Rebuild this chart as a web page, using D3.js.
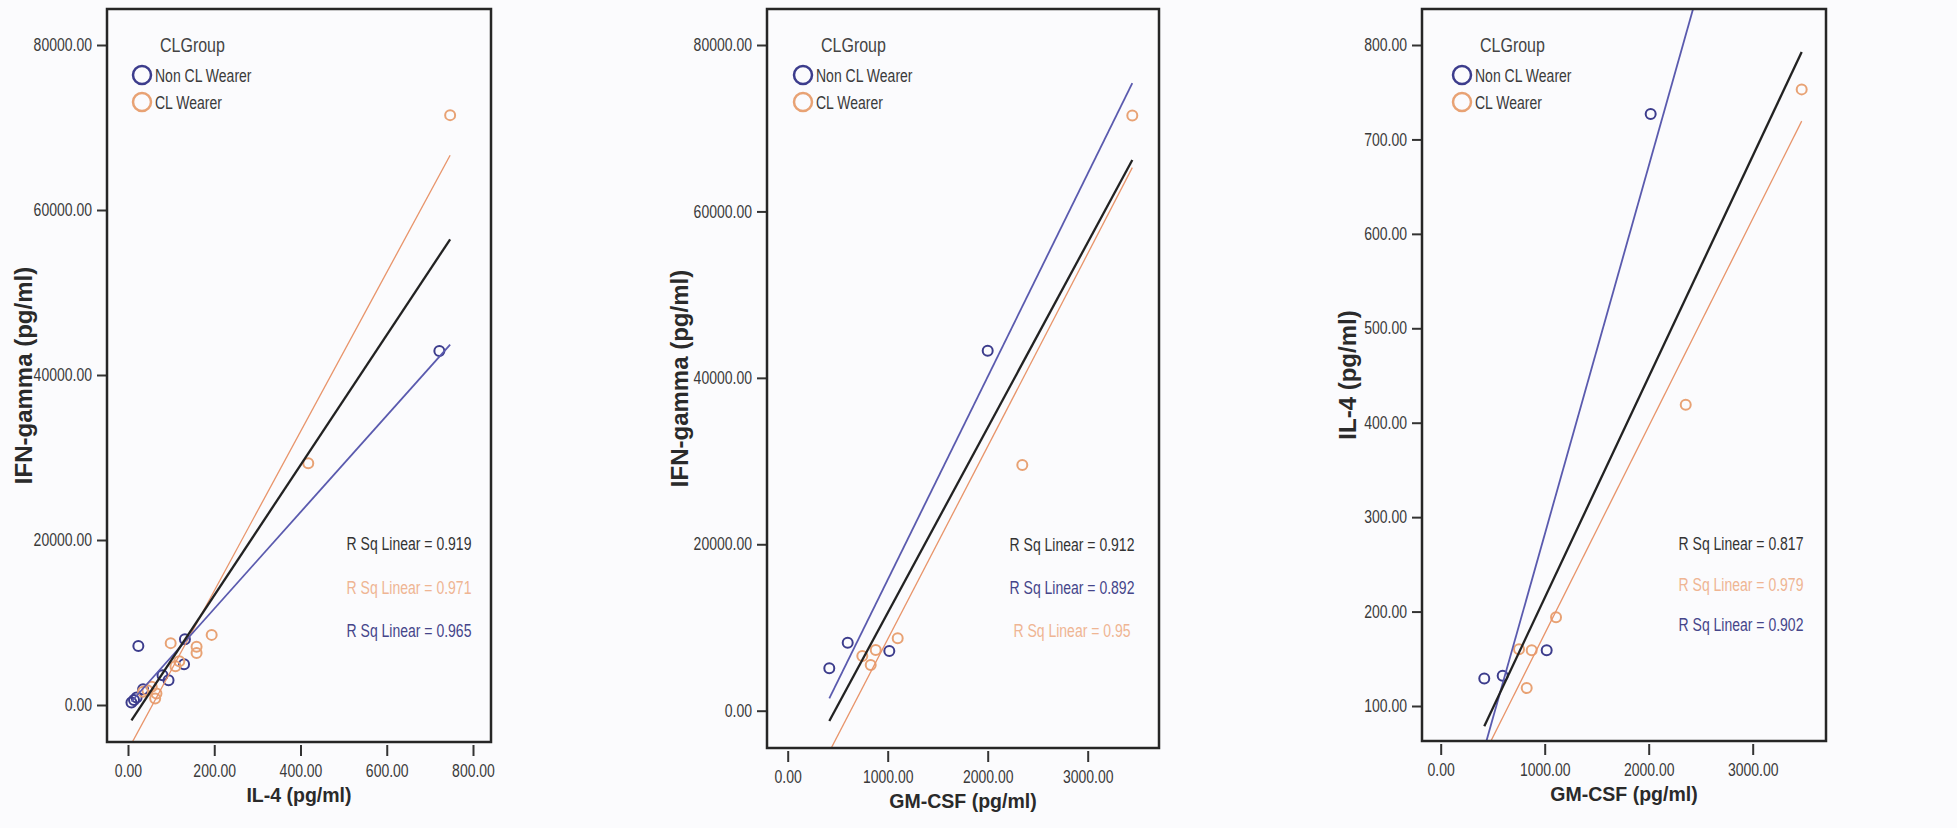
<!DOCTYPE html>
<html><head><meta charset="utf-8">
<script src="https://cdnjs.cloudflare.com/ajax/libs/d3/7.8.5/d3.min.js"></script>
<style>html,body{margin:0;padding:0;background:#fbfbfd;} svg{display:block;}</style>
</head><body><svg id="c" width="1957" height="828"></svg>
<script>
// ---------- data ----------
const groups = ["Non CL Wearer", "CL Wearer"];
const legendTitle = "CLGroup";

// Panel 1: IL-4 (x) vs IFN-gamma (y)
const p1NonCL = [[8,300],[14,600],[20,900],[24,7150],[35,1900],[80,3600],[94,3000],[130,4950],[132,7960],[722,42900]];
const p1CL = [[35,1600],[45,1800],[55,2200],[63,800],[66,1400],[99,7500],[110,4700],[119,5300],[159,6300],[159,7050],[194,8500],[418,29300],[747,71500]];
// Panel 2: GM-CSF (x) vs IFN-gamma (y)
const p2NonCL = [[416,5100],[600,8170],[1016,7180],[2000,43270]];
const p2CL = [[746,6570],[830,5490],[880,7300],[1100,8700],[2346,29530],[3446,71520]];
// Panel 3: GM-CSF (x) vs IL-4 (y)
const p3NonCL = [[419,129],[596,132],[1019,159],[2019,727]];
const p3CL = [[753,160],[827,119],[875,159],[1109,194],[2356,419],[3471,753]];

const p1XTicks = [0,200,400,600,800];
const p1YTicks = [0,20000,40000,60000,80000];
const p2XTicks = [0,1000,2000,3000];
const p2YTicks = [0,20000,40000,60000,80000];
const p3XTicks = [0,1000,2000,3000];
const p3YTicks = [100,200,300,400,500,600,700,800];

const p1Titles = ["IL-4 (pg/ml)", "IFN-gamma (pg/ml)"];
const p2Titles = ["GM-CSF (pg/ml)", "IFN-gamma (pg/ml)"];
const p3Titles = ["GM-CSF (pg/ml)", "IL-4 (pg/ml)"];

const p1Rsq = ["R Sq Linear = 0.919","R Sq Linear = 0.971","R Sq Linear = 0.965"];
const p1RsqKey = ["total","cl","non"];
const p2Rsq = ["R Sq Linear = 0.912","R Sq Linear = 0.892","R Sq Linear = 0.95"];
const p2RsqKey = ["total","non","cl"];
const p3Rsq = ["R Sq Linear = 0.817","R Sq Linear = 0.979","R Sq Linear = 0.902"];
const p3RsqKey = ["total","cl","non"];

// ---------- style ----------
const FONT = "'Liberation Sans', Arial, sans-serif";
const col = {
  non: "#3c3c8c", cl: "#e8a274", total: "#222222",
  nonLine: "#5a5aae", clLine: "#e8946a",
  nonText: "#45458a", clText: "#efb593", totalText: "#333333"
};

const svg = d3.select("#c");

const panels = [
  {id:1, non:p1NonCL, cl:p1CL, xTicks:p1XTicks, yTicks:p1YTicks, titles:p1Titles, rsq:p1Rsq, rsqKey:p1RsqKey,
   frame:{l:107,r:491,t:9,b:742}, xCal:[0,800], xPix:[128,473], yCal:[0,80000], yPix:[705,45],
   yTitleX:23, legDx:35, rsqDx:82, rsqY:550, rsqStep:43.5},
  {id:2, non:p2NonCL, cl:p2CL, xTicks:p2XTicks, yTicks:p2YTicks, titles:p2Titles, rsq:p2Rsq, rsqKey:p2RsqKey,
   frame:{l:767,r:1159,t:9,b:748}, xCal:[0,3000], xPix:[787.7,1087.7], yCal:[0,80000], yPix:[710.7,45],
   yTitleX:679, legDx:36, rsqDx:87, rsqY:551, rsqStep:43},
  {id:3, non:p3NonCL, cl:p3CL, xTicks:p3XTicks, yTicks:p3YTicks, titles:p3Titles, rsq:p3Rsq, rsqKey:p3RsqKey,
   frame:{l:1422,r:1826,t:9,b:741}, xCal:[0,3000], xPix:[1440.7,1752.7], yCal:[100,800], yPix:[706,45],
   yTitleX:1347, legDx:40, rsqDx:85, rsqY:550, rsqStep:40.5}
];

function fit(pts){
  const n = pts.length;
  const mx = d3.mean(pts, d=>d[0]), my = d3.mean(pts, d=>d[1]);
  let sxy=0, sxx=0;
  pts.forEach(d=>{ sxy += (d[0]-mx)*(d[1]-my); sxx += (d[0]-mx)*(d[0]-mx); });
  const b = sxy/sxx;
  return {b, a: my - b*mx};
}

const condensed = [];

panels.forEach(cfg => {
  const f = cfg.frame;
  const g = svg.append("g");
  const x = d3.scaleLinear().domain(cfg.xCal).range(cfg.xPix);
  const y = d3.scaleLinear().domain(cfg.yCal).range(cfg.yPix);
  const clipId = "clip" + cfg.id;
  svg.append("clipPath").attr("id", clipId).append("rect")
    .attr("x", f.l).attr("y", f.t).attr("width", f.r - f.l).attr("height", f.b - f.t);

  // x axis
  const gx = g.append("g").attr("transform", `translate(0,${f.b})`)
    .call(d3.axisBottom(x).tickValues(cfg.xTicks).tickFormat(d3.format(".2f")).tickSizeOuter(0).tickSizeInner(14));
  gx.select(".domain").remove();
  gx.selectAll(".tick line").attr("y1", 3).attr("y2", 14).attr("stroke", "#333").attr("stroke-width", 2);
  gx.selectAll(".tick text").attr("y", 35).attr("dy", null)
    .attr("fill", "#3a3a3a").style("font-family", FONT).style("font-size", "17.5px");
  condensed.push(gx.selectAll(".tick text"));

  // y axis
  const gy = g.append("g").attr("transform", `translate(${f.l},0)`)
    .call(d3.axisLeft(y).tickValues(cfg.yTicks).tickFormat(d3.format(".2f")).tickSizeOuter(0).tickSizeInner(10).tickPadding(5));
  gy.select(".domain").remove();
  gy.selectAll(".tick line").attr("stroke", "#333").attr("stroke-width", 2);
  gy.selectAll(".tick text").attr("fill", "#3a3a3a").style("font-family", FONT).style("font-size", "17.5px");
  condensed.push(gy.selectAll(".tick text"));

  // points
  const pg = g.append("g").attr("clip-path", `url(#${clipId})`);
  [["non", cfg.non], ["cl", cfg.cl]].forEach(([k, pts]) => {
    pg.selectAll(null).data(pts).enter().append("circle")
      .attr("cx", d => x(d[0])).attr("cy", d => y(d[1])).attr("r", 5)
      .attr("fill", "none").attr("stroke", col[k]).attr("stroke-width", 2);
  });

  // fit lines
  const all = cfg.non.concat(cfg.cl);
  const xr = d3.extent(all, d => d[0]);
  const fits = [
    {k:"cl", pts:cfg.cl, color:col.clLine, w:1.3},
    {k:"non", pts:cfg.non, color:col.nonLine, w:1.8},
    {k:"total", pts:all, color:col.total, w:2.3}
  ];
  fits.forEach(fo => {
    const {a, b} = fit(fo.pts);
    pg.append("line")
      .attr("x1", x(xr[0])).attr("y1", y(a + b*xr[0]))
      .attr("x2", x(xr[1])).attr("y2", y(a + b*xr[1]))
      .attr("stroke", fo.color).attr("stroke-width", fo.w);
  });

  // frame
  g.append("rect").attr("x", f.l).attr("y", f.t).attr("width", f.r - f.l).attr("height", f.b - f.t)
    .attr("fill", "none").attr("stroke", "#262626").attr("stroke-width", 2.5);

  // legend
  const lx = f.l + cfg.legDx;
  const lt = g.append("text").attr("x", lx + 18).attr("y", 52).text(legendTitle)
    .attr("fill", "#444").style("font-family", FONT).style("font-size", "20px");
  condensed.push(lt);
  groups.forEach((name, i) => {
    const cy = 75 + i*27;
    g.append("circle").attr("cx", lx).attr("cy", cy).attr("r", 9)
      .attr("fill", "none").attr("stroke", i === 0 ? col.non : col.cl).attr("stroke-width", 2.5);
    const t = g.append("text").attr("x", lx + 13).attr("y", cy + 6.5).text(name)
      .attr("fill", "#3a3a3a").style("font-family", FONT).style("font-size", "17.5px");
    condensed.push(t);
  });

  // R sq labels
  const rcx = f.r - cfg.rsqDx;
  cfg.rsq.forEach((s, i) => {
    const k = cfg.rsqKey[i];
    const t = g.append("text").attr("x", rcx).attr("y", cfg.rsqY + i*cfg.rsqStep).attr("text-anchor", "middle")
      .text(s).attr("fill", k === "total" ? col.totalText : (k === "cl" ? col.clText : col.nonText))
      .style("font-family", FONT).style("font-size", "17.5px");
    condensed.push(t);
  });

  // axis titles
  g.append("text").attr("x", (f.l + f.r)/2).attr("y", f.b + 60).attr("text-anchor", "middle")
    .text(cfg.titles[0]).attr("fill", "#2a2a2a")
    .style("font-family", FONT).style("font-size", "19.5px").style("font-weight", "bold");
  g.append("text").attr("transform", `translate(${cfg.yTitleX + 8.5},${(f.t + f.b)/2}) rotate(-90)`)
    .attr("text-anchor", "middle").text(cfg.titles[1]).attr("fill", "#2a2a2a")
    .style("font-family", FONT).style("font-size", "24px").style("font-weight", "bold");
});

// horizontally condense regular text (narrow face)
condensed.forEach(sel => sel.each(function(){
  const L = this.getComputedTextLength();
  d3.select(this).attr("textLength", (L*0.8).toFixed(1)).attr("lengthAdjust", "spacingAndGlyphs");
}));
</script></body></html>
